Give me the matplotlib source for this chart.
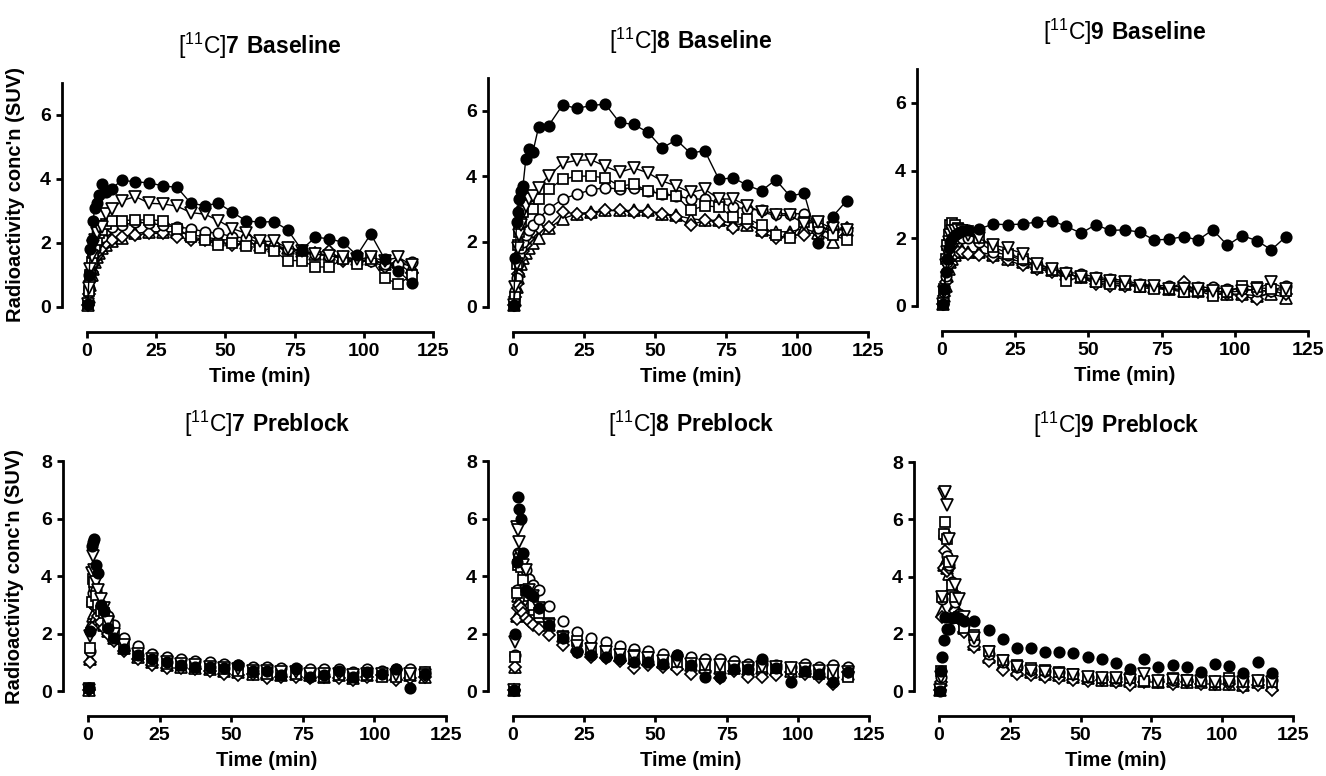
import numpy as np
import matplotlib.pyplot as plt

plt.rcParams['font.family'] = ['Liberation Sans', 'DejaVu Sans']
plt.rcParams['mathtext.fontset'] = 'custom'
plt.rcParams['mathtext.rm'] = 'Liberation Sans:weight=normal'
plt.rcParams['mathtext.bf'] = 'Liberation Sans:weight=bold'

# frame mid-times (min)
t = [0.25, 0.75, 1.25, 1.75, 2.25, 2.75, 3.5, 4.5, 5.5, 7, 9,
     12.5, 17.5, 22.5, 27.5, 32.5, 37.5, 42.5, 47.5, 52.5, 57.5, 62.5,
     67.5, 72.5, 77.5, 82.5, 87.5, 92.5, 97.5, 102.5, 107.5, 112.5, 117.5]

# --- [11C]7 baseline ---
base7_fc = [0.1, 1.0, 1.8, 2.1, 2.7, 3.1, 3.25, 3.5, 3.85, 3.6, 3.7,
            3.96, 3.91, 3.88, 3.78, 3.74, 3.24, 3.17, 3.24, 2.96, 2.69, 2.65,
            2.67, 2.41, 1.79, 2.18, 2.13, 2.02, 1.61, 2.28, 1.5, 1.11, 0.74]
base7_dt = [0.1, 0.6, 1.2, 1.6, 1.9, 2.1, 2.3, 2.5, 2.5, 2.9, 3.05,
            3.32, 3.45, 3.24, 3.22, 3.15, 2.95, 2.9, 2.7, 2.45, 2.3, 2.05,
            2.05, 1.85, 1.75, 1.65, 1.6, 1.55, 1.5, 1.55, 1.45, 1.55, 1.3]
base7_sq = [0.1, 0.5, 1.0, 1.4, 1.7, 1.9, 2.1, 2.3, 2.4, 2.6, 2.7,
            2.7, 2.72, 2.72, 2.7, 2.45, 2.2, 2.1, 1.95, 2.0, 1.9, 1.85,
            1.75, 1.45, 1.45, 1.25, 1.25, 1.5, 1.35, 1.5, 0.9, 0.72, 1.0]
base7_oc = [0.1, 0.6, 1.1, 1.4, 1.6, 1.8, 2.0, 2.1, 2.2, 2.4, 2.5,
            2.55, 2.65, 2.62, 2.55, 2.5, 2.45, 2.35, 2.3, 2.2, 2.15, 2.0,
            1.9, 1.8, 1.75, 1.65, 1.6, 1.5, 1.45, 1.45, 1.35, 1.35, 1.4]
base7_di = [0.05, 0.4, 0.8, 1.1, 1.3, 1.5, 1.6, 1.75, 1.85, 2.0, 2.1,
            2.2, 2.25, 2.3, 2.3, 2.2, 2.1, 2.1, 2.05, 1.95, 2.0, 1.95,
            1.85, 1.8, 1.65, 1.7, 1.75, 1.45, 1.45, 1.45, 1.25, 1.35, 1.05]
base7_ut = [0.05, 0.3, 0.7, 1.0, 1.2, 1.4, 1.55, 1.7, 1.85, 1.95, 2.05,
            2.15, 2.3, 2.35, 2.35, 2.35, 2.25, 2.2, 2.1, 2.1, 2.0, 1.95,
            1.9, 1.85, 1.75, 1.65, 1.65, 1.55, 1.5, 1.5, 1.35, 1.4, 1.25]

# --- [11C]8 baseline ---
base8_fc = [0.05, 1.5, 2.6, 2.9, 3.3, 3.55, 3.7, 4.52, 4.83, 4.74, 5.5,
            5.54, 6.18, 6.07, 6.16, 6.2, 5.64, 5.58, 5.34, 4.86, 5.11, 4.7,
            4.78, 3.9, 3.95, 3.72, 3.55, 3.89, 3.39, 3.48, 1.96, 2.76, 3.25]
base8_dt = [0.05, 0.6, 1.3, 1.8, 2.2, 2.5, 2.9, 3.1, 3.3, 3.4, 3.65,
            4.0, 4.4, 4.48, 4.5, 4.3, 4.12, 4.25, 4.1, 3.85, 3.7, 3.5,
            3.6, 3.3, 3.3, 3.1, 2.9, 2.8, 2.8, 2.55, 2.6, 2.4, 2.35]
base8_sq = [0.05, 0.3, 1.3, 1.9, 2.3, 2.6, 2.9, 3.2, 3.3, 3.0, 3.3,
            3.6, 3.9, 4.0, 4.0, 3.95, 3.7, 3.75, 3.55, 3.45, 3.4, 2.95,
            3.1, 3.05, 2.75, 2.7, 2.5, 2.2, 2.1, 2.6, 2.6, 2.2, 2.05]
base8_oc = [0.05, 0.5, 0.9, 1.3, 1.6, 1.8, 2.0, 2.2, 2.35, 2.5, 2.7,
            3.0, 3.3, 3.45, 3.58, 3.65, 3.6, 3.65, 3.55, 3.45, 3.4, 3.3,
            3.3, 3.2, 3.05, 3.0, 2.95, 2.85, 2.85, 2.85, 2.4, 2.4, 2.35]
base8_di = [0.05, 0.3, 0.7, 1.0, 1.3, 1.5, 1.7, 1.9, 2.1, 2.3, 2.4,
            2.45, 2.9, 2.85, 2.85, 2.95, 2.95, 2.9, 2.9, 2.85, 2.75, 2.5,
            2.65, 2.6, 2.4, 2.55, 2.3, 2.1, 2.2, 2.2, 2.3, 2.3, 2.4]
base8_ut = [0.05, 0.2, 0.6, 0.9, 1.1, 1.3, 1.5, 1.65, 1.8, 1.95, 2.1,
            2.4, 2.7, 2.85, 2.9, 2.95, 2.95, 2.95, 2.95, 2.85, 2.8, 2.7,
            2.65, 2.65, 2.55, 2.5, 2.35, 2.3, 2.3, 2.4, 2.25, 2.0, 2.35]

# --- [11C]9 baseline ---
base9_fc = [0.05, 0.5, 1.0, 1.4, 1.7, 1.9, 2.0, 2.1, 2.15, 2.2, 2.25,
            2.27, 2.42, 2.4, 2.42, 2.48, 2.52, 2.35, 2.15, 2.4, 2.23, 2.25,
            2.18, 1.95, 1.97, 2.05, 1.95, 2.25, 1.79, 2.08, 1.93, 1.66, 2.05]
base9_dt = [0.05, 0.4, 1.2, 1.6, 1.9, 2.1, 2.2, 2.2, 2.25, 2.2, 2.1,
            2.0, 1.8, 1.7, 1.55, 1.25, 1.1, 0.95, 0.85, 0.8, 0.75, 0.7,
            0.6, 0.6, 0.5, 0.5, 0.5, 0.45, 0.4, 0.45, 0.5, 0.7, 0.5]
base9_sq = [0.05, 0.5, 1.4, 1.8, 2.1, 2.4, 2.45, 2.4, 2.3, 2.25, 2.2,
            2.0, 1.75, 1.55, 1.4, 1.15, 1.05, 0.75, 0.85, 0.7, 0.65, 0.65,
            0.55, 0.5, 0.5, 0.4, 0.45, 0.3, 0.4, 0.6, 0.55, 0.5, 0.45]
base9_oc = [0.05, 0.4, 0.9, 1.3, 1.6, 1.8, 1.9, 2.0, 2.0, 2.0, 2.0,
            1.9, 1.6, 1.5, 1.35, 1.2, 1.1, 1.0, 0.95, 0.85, 0.8, 0.75,
            0.65, 0.6, 0.6, 0.55, 0.55, 0.55, 0.5, 0.5, 0.45, 0.45, 0.6]
base9_di = [0.05, 0.3, 0.7, 1.0, 1.2, 1.4, 1.5, 1.55, 1.6, 1.6, 1.55,
            1.5, 1.45, 1.35, 1.2, 1.1, 1.0, 0.95, 0.85, 0.65, 0.6, 0.6,
            0.6, 0.55, 0.5, 0.7, 0.4, 0.5, 0.35, 0.3, 0.2, 0.45, 0.35]
base9_ut = [0.05, 0.3, 0.6, 0.9, 1.1, 1.3, 1.4, 1.5, 1.6, 1.65, 1.6,
            1.6, 1.5, 1.4, 1.3, 1.15, 1.05, 0.95, 0.85, 0.75, 0.7, 0.65,
            0.6, 0.55, 0.5, 0.45, 0.45, 0.4, 0.35, 0.35, 0.3, 0.35, 0.25]

# --- [11C]7 preblock ---
pre7_fc = [0.1, 2.1, 5.05, 5.2, 5.3, 4.4, 4.1, 3.0, 2.8, 2.2, 1.85,
           1.45, 1.25, 1.1, 1.0, 0.9, 0.85, 0.85, 0.8, 0.9, 0.7, 0.7,
           0.55, 0.75, 0.5, 0.55, 0.7, 0.5, 0.65, 0.6, 0.75, 0.1, 0.6]
pre7_dt = [0.05, 1.9, 4.1, 4.7, 4.2, 3.8, 3.5, 3.2, 2.9, 2.4, 2.0,
           1.6, 1.3, 1.1, 1.0, 0.95, 0.9, 0.85, 0.8, 0.75, 0.7, 0.7,
           0.65, 0.65, 0.6, 0.6, 0.6, 0.55, 0.6, 0.6, 0.55, 0.6, 0.55]
pre7_sq = [0.1, 1.5, 3.1, 3.9, 3.8, 3.3, 3.0, 2.8, 2.7, 2.3, 2.0,
           1.55, 1.25, 1.05, 0.95, 0.9, 0.85, 0.8, 0.75, 0.7, 0.65, 0.6,
           0.55, 0.6, 0.55, 0.5, 0.55, 0.5, 0.55, 0.5, 0.5, 0.55, 0.65]
pre7_oc = [0.1, 1.4, 3.1, 3.4, 3.6, 3.5, 3.3, 3.0, 2.8, 2.6, 2.3,
           1.85, 1.55, 1.3, 1.2, 1.1, 1.05, 1.0, 0.95, 0.9, 0.85, 0.85,
           0.8, 0.8, 0.75, 0.75, 0.75, 0.65, 0.75, 0.7, 0.75, 0.75, 0.65]
pre7_di = [0.05, 1.0, 2.2, 3.0, 3.2, 2.9, 2.6, 2.4, 2.2, 2.0, 1.75,
           1.4, 1.1, 0.9, 0.8, 0.8, 0.75, 0.7, 0.6, 0.55, 0.6, 0.45,
           0.5, 0.5, 0.45, 0.5, 0.45, 0.4, 0.5, 0.55, 0.4, 0.45, 0.5]
pre7_ut = [0.05, 1.1, 2.4, 2.6, 2.7, 2.6, 2.5, 2.4, 2.3, 2.1, 1.85,
           1.5, 1.2, 1.0, 0.9, 0.85, 0.8, 0.75, 0.7, 0.65, 0.6, 0.6,
           0.55, 0.6, 0.55, 0.5, 0.55, 0.45, 0.55, 0.55, 0.6, 0.55, 0.5]

# --- [11C]8 preblock ---
pre8_fc = [0.05, 2.0, 4.5, 6.74, 6.32, 5.97, 4.79, 3.5, 3.4, 3.3, 2.9,
           2.3, 1.85, 1.35, 1.25, 1.2, 1.1, 1.0, 1.0, 0.95, 1.25, 0.9,
           0.5, 0.5, 0.75, 0.75, 1.1, 0.8, 0.3, 0.7, 0.6, 0.3, 0.65]
pre8_dt = [0.05, 1.7, 5.7, 5.6, 5.2, 4.7, 4.4, 4.2, 3.5, 3.3, 2.9,
           2.3, 1.85, 1.55, 1.45, 1.35, 1.25, 1.2, 1.15, 1.05, 1.0, 0.95,
           0.9, 0.9, 0.85, 0.8, 0.85, 0.85, 0.8, 0.75, 0.7, 0.7, 0.65]
pre8_sq = [0.05, 1.2, 3.4, 4.4, 4.5, 4.3, 3.85, 3.5, 3.3, 3.0, 2.7,
           2.35, 1.9, 1.75, 1.5, 1.4, 1.3, 1.25, 1.2, 1.05, 1.0, 0.95,
           0.9, 0.85, 0.8, 0.8, 0.85, 0.8, 0.75, 0.7, 0.6, 0.6, 0.5]
pre8_oc = [0.05, 1.25, 3.5, 4.8, 4.7, 4.5, 4.1, 4.2, 3.9, 3.7, 3.5,
           2.95, 2.45, 2.05, 1.85, 1.7, 1.55, 1.45, 1.4, 1.3, 1.25, 1.2,
           1.1, 1.1, 1.05, 0.95, 0.95, 0.9, 0.85, 0.95, 0.85, 0.9, 0.85]
pre8_di = [0.05, 0.85, 2.5, 2.9, 3.0, 2.9, 2.7, 2.55, 2.45, 2.3, 2.17,
           1.95, 1.6, 1.35, 1.2, 1.15, 1.05, 0.8, 0.9, 0.85, 0.75, 0.6,
           0.7, 0.45, 0.7, 0.5, 0.5, 0.55, 0.65, 0.6, 0.5, 0.25, 0.65]
pre8_ut = [0.05, 0.85, 2.6, 3.3, 3.5, 3.3, 3.2, 3.1, 3.0, 2.85, 2.6,
           2.3, 1.9, 1.6, 1.45, 1.35, 1.25, 1.15, 1.1, 1.0, 0.95, 0.9,
           0.85, 0.8, 0.8, 0.75, 0.8, 0.75, 0.7, 0.7, 0.65, 0.65, 0.6]

# --- [11C]9 preblock ---
pre9_fc = [0.0, 0.7, 1.2, 1.8, 2.6, 2.15, 2.15, 2.55, 2.6, 2.55, 2.45,
           2.46, 2.13, 1.83, 1.52, 1.49, 1.36, 1.35, 1.34, 1.18, 1.13, 0.97,
           0.76, 1.12, 0.84, 0.91, 0.85, 0.68, 0.94, 0.89, 0.62, 1.03, 0.62]
pre9_dt = [0.05, 0.5, 3.3, 6.9, 6.95, 6.5, 5.3, 4.5, 3.7, 3.2, 2.6,
           1.85, 1.35, 1.05, 0.85, 0.7, 0.65, 0.6, 0.55, 0.5, 0.45, 0.45,
           0.4, 0.6, 0.35, 0.4, 0.35, 0.35, 0.3, 0.3, 0.3, 0.35, 0.3]
pre9_sq = [0.05, 0.7, 3.3, 5.5, 5.9, 5.3, 4.5, 3.7, 3.3, 2.6, 2.2,
           1.95, 1.4, 1.1, 0.9, 0.8, 0.75, 0.65, 0.6, 0.5, 0.45, 0.45,
           0.45, 0.35, 0.3, 0.45, 0.4, 0.35, 0.3, 0.45, 0.3, 0.35, 0.3]
pre9_oc = [0.05, 0.5, 3.2, 5.4, 5.5, 4.7, 4.4, 3.8, 3.1, 2.7, 2.3,
           1.75, 1.3, 1.0, 0.85, 0.75, 0.7, 0.65, 0.6, 0.5, 0.5, 0.45,
           0.45, 0.4, 0.4, 0.4, 0.4, 0.35, 0.35, 0.35, 0.35, 0.4, 0.4]
pre9_di = [0.05, 0.3, 2.6, 4.3, 4.9, 4.2, 4.3, 3.5, 2.8, 2.5, 2.05,
           1.55, 1.05, 0.75, 0.6, 0.55, 0.5, 0.45, 0.4, 0.35, 0.4, 0.3,
           0.2, 0.3, 0.3, 0.25, 0.3, 0.25, 0.25, 0.25, 0.15, 0.2, 0.05]
pre9_ut = [0.05, 0.4, 2.8, 4.4, 4.5, 4.3, 4.1, 3.6, 3.0, 2.6, 2.2,
           1.65, 1.2, 0.95, 0.75, 0.65, 0.6, 0.55, 0.5, 0.45, 0.4, 0.4,
           0.35, 0.35, 0.3, 0.35, 0.3, 0.3, 0.25, 0.25, 0.2, 0.3, 0.2]

titles = [r'$\mathrm{[^{11}C]}\mathbf{7\ Baseline}$',
          r'$\mathrm{[^{11}C]}\mathbf{8\ Baseline}$',
          r'$\mathrm{[^{11}C]}\mathbf{9\ Baseline}$',
          r'$\mathrm{[^{11}C]}\mathbf{7\ Preblock}$',
          r'$\mathrm{[^{11}C]}\mathbf{8\ Preblock}$',
          r'$\mathrm{[^{11}C]}\mathbf{9\ Preblock}$']

# draw order: open symbols first, filled circle on top
markers = [('^', 8, 'white'), ('D', 6, 'white'), ('o', 7.5, 'white'),
           ('s', 7, 'white'), ('v', 8, 'white'), ('o', 7.5, 'black')]

panels = [
    ([base7_ut, base7_di, base7_oc, base7_sq, base7_dt, base7_fc], True, 7),
    ([base8_ut, base8_di, base8_oc, base8_sq, base8_dt, base8_fc], True, 7),
    ([base9_ut, base9_di, base9_oc, base9_sq, base9_dt, base9_fc], True, 7),
    ([pre7_ut, pre7_di, pre7_oc, pre7_sq, pre7_dt, pre7_fc], False, 8),
    ([pre8_ut, pre8_di, pre8_oc, pre8_sq, pre8_dt, pre8_fc], False, 8),
    ([pre9_ut, pre9_di, pre9_oc, pre9_sq, pre9_dt, pre9_fc], False, 8),
]

# axes boxes (data area) in figure fractions
boxes = [
    [0.0656, 0.6044, 0.2610, 0.2887],
    [0.3869, 0.6044, 0.2677, 0.2951],
    [0.7104, 0.6057, 0.2760, 0.3054],
    [0.0664, 0.1095, 0.2700, 0.2964],
    [0.3869, 0.1095, 0.2685, 0.2964],
    [0.7081, 0.1095, 0.2670, 0.2951],
]

fig = plt.figure(figsize=(13.26, 7.76), dpi=100)

for i, ((series, joined, ymax), box) in enumerate(zip(panels, boxes)):
    ax = fig.add_axes(box)
    for ys, (m, ms, fc) in zip(series, markers):
        ax.plot(t, ys, marker=m, markersize=ms, markerfacecolor=fc,
                markeredgecolor='black', markeredgewidth=1.25,
                color='black', linewidth=1.0 if joined else 0,
                linestyle='-' if joined else 'none', clip_on=False)

    ax.set_xlim(0, 125)
    ax.set_ylim(0, ymax)
    ax.set_xticks([0, 25, 50, 75, 100, 125])
    ax.set_yticks(list(range(0, ymax + 1, 2)))
    for s in ['top', 'right']:
        ax.spines[s].set_visible(False)
    for s in ['left', 'bottom']:
        ax.spines[s].set_position(('outward', 18))
        ax.spines[s].set_linewidth(2)
    ax.tick_params(direction='out', length=4, width=2, labelsize=14, pad=4)
    for lab in ax.get_xticklabels() + ax.get_yticklabels():
        lab.set_fontweight('bold')
    ax.patch.set_visible(False)

    ax.set_xlabel('Time (min)', fontsize=14.5, fontweight='bold', labelpad=5)
    if i % 3 == 0:
        ax.set_ylabel("Radioactivity conc'n (SUV)", fontsize=14.5, fontweight='bold')
        ax.yaxis.set_label_coords(-0.179, 0.5)
    ax.set_title(titles[i], fontsize=16.5, pad=21)

fig.savefig('out.png', dpi=100)
